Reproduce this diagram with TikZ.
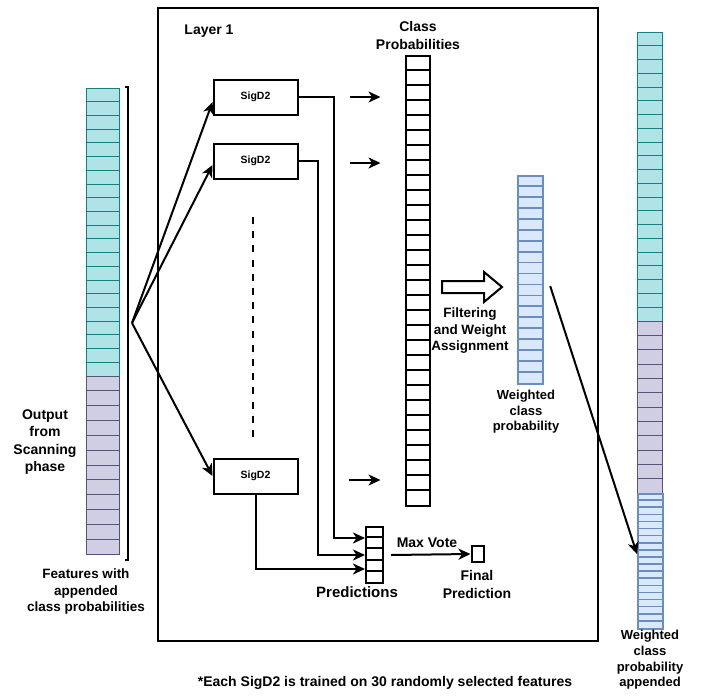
\documentclass[tikz,border=0pt]{standalone}
\usepackage{fontspec}
\setmainfont{Liberation Sans}
\usetikzlibrary{arrows.meta}
\definecolor{tealfill}{HTML}{B0E3E6}
\definecolor{tealline}{HTML}{0E8088}
\definecolor{purpfill}{HTML}{D0CEE2}
\definecolor{purpline}{HTML}{56517E}
\definecolor{bluefill}{HTML}{DAE8FC}
\definecolor{blueline}{HTML}{6C8EBF}
\tikzset{
  lbl/.style={font=\bfseries\fontsize{13.5}{16.5}\selectfont, align=center, inner sep=0pt},
  sigbox/.style={draw, line width=2pt, minimum width=84pt, minimum height=35pt, inner sep=0pt, font=\bfseries\fontsize{10.5}{12}\selectfont},
  col/.style={inner sep=0pt, anchor=north west},
  arr/.style={-{Stealth[length=12pt,width=11pt,inset=3.5pt]}, line width=2pt},
}
\begin{document}
\begin{tikzpicture}[x=1pt, y=-1pt]
\useasboundingbox (0,0) rectangle (704,696);
% left column
\node[col, draw=tealline, fill=tealfill, line width=0.9pt, minimum width=33pt, minimum height=288pt] (scanA) at (86,88) {};
\node[col, draw=purpline, fill=purpfill, line width=0.9pt, minimum width=33pt, minimum height=178pt] (scanB) at (86,376) {};
\foreach \i in {1,...,20}
  \draw[tealline, line width=0.9pt] (scanA.north west) ++(0,13.714*\i) -- ++(33,0);
\foreach \i in {1,...,11}
  \draw[purpline, line width=0.9pt] (scanB.north west) ++(0,14.833*\i) -- ++(33,0);
\draw[line width=1.3pt] (125,87) -- (128,87) -- (128,560) -- (125,560);
\node[lbl, font=\bfseries\fontsize{14}{17.3}\selectfont] (outtxt) at (45,442) {Output\\from\\Scanning\\phase};
\node[lbl] (feattxt) at (86,592) {Features with\\appended\\class probabilities};
% layer box
\node[col, draw, line width=2.4pt, minimum width=440pt, minimum height=633pt] (layer) at (157,7) {};
\node[lbl, font=\bfseries\fontsize{14}{17}\selectfont] (layertxt) at (209,31) {Layer 1};
\node[sigbox] (sig1) at (255.5,97) {SigD2};
\node[sigbox] (sig2) at (255.5,161) {SigD2};
\node[sigbox] (sig3) at (255.5,476) {SigD2};
\coordinate (fan) at (132,323);
\draw[arr] (fan) -- ([yshift=-5pt]sig1.west);
\draw[arr] (fan) -- ([yshift=-4pt]sig2.west);
\draw[arr] (fan) -- (sig3.west);
\coordinate (dtop) at (253,217);
\coordinate (dbot) at (253,442);
\draw[line width=2.2pt, dash pattern=on 7pt off 7.2pt] (dtop) -- (dbot);
% class probabilities
\node[lbl, font=\bfseries\fontsize{14}{18}\selectfont] (cptxt) at (418,35) {Class\\Probabilities};
\node[col, draw, line width=2pt, minimum width=24pt, minimum height=450pt] (cprob) at (405,55) {};
\foreach \i in {1,...,29}
  \draw[line width=2pt] (cprob.north west) ++(0,15*\i) -- ++(24,0);
\draw[arr] (sig1.east) ++(51,0) -- ++(31,0);
\draw[arr] (sig2.east) ++(51,2) -- ++(31,0);
\draw[arr] (sig3.east) ++(50,4) -- ++(32,0);
% predictions
\node[col, draw, line width=2pt, minimum width=17pt, minimum height=56pt] (pred) at (365,526) {};
\foreach \i in {1,...,4}
  \draw[line width=2pt] (pred.north west) ++(0,11.2*\i) -- ++(17,0);
\draw[arr] (sig1.east) -- ++(35,0) |- ([yshift=17pt]pred.west);
\draw[arr] (sig2.east) -- ++(19,0) |- (pred.west);
\draw[arr] (sig3.south) |- ([yshift=-14pt]pred.west);
\node[lbl, font=\bfseries\fontsize{15}{18}\selectfont] (predtxt) at (357,592) {Predictions};
\node[draw, line width=2pt, minimum width=12pt, minimum height=16pt, inner sep=0pt] (fin) at (477.5,554) {};
\draw[arr] ([xshift=7pt]pred.east) -- (fin.west);
\node[lbl, font=\bfseries\fontsize{14}{17}\selectfont] (mvtxt) at (427,543) {Max Vote};
\node[lbl, font=\bfseries\fontsize{14}{18}\selectfont] (fintxt) at (477,584) {Final\\Prediction};
% filtering
\draw[line width=2pt, fill=white] (442,281) -- (484,281) -- (484,272) -- (502,287)
  -- (484,302) -- (484,293) -- (442,293) -- cycle;
\node[lbl] (filttxt) at (470,331) {Filtering\\and Weight\\Assignment};
\node[col, draw=blueline, fill=bluefill, line width=2.2pt, minimum width=25pt, minimum height=208pt] (wcp) at (517,175) {};
\foreach \i in {1,...,18}
  \draw[blueline, line width=1.8pt] (wcp.north west) ++(0,10.947*\i) -- ++(25,0);
\node[lbl, font=\bfseries\fontsize{13}{15.5}\selectfont] (wcptxt) at (526,412) {Weighted\\class\\probability};
% right column
\node[col, draw=tealline, fill=tealfill, line width=0.9pt, minimum width=25pt, minimum height=289pt] (rtA) at (637,32) {};
\node[col, draw=purpline, fill=purpfill, line width=0.9pt, minimum width=25pt, minimum height=172pt] (rtB) at (637,321) {};
\node[col, draw=blueline, fill=bluefill, line width=2.2pt, minimum width=25pt, minimum height=135pt] (rtC) at (637,493) {};
\foreach \i in {1,...,20}
  \draw[tealline, line width=0.9pt] (rtA.north west) ++(0,13.76*\i) -- ++(25,0);
\foreach \i in {1,...,11}
  \draw[purpline, line width=0.9pt] (rtB.north west) ++(0,14.33*\i) -- ++(25,0);
\foreach \i in {1,...,18}
  \draw[blueline, line width=1.6pt] (rtC.north west) ++(0,7.105*\i) -- ++(25,0);
\draw[arr] ([xshift=6pt,yshift=-6pt]wcp.east) -- ([yshift=7.5pt]rtC.west);
\node[lbl, font=\bfseries\fontsize{13}{15.7}\selectfont] (rtxt) at (650,660) {Weighted\\class\\probability\\appended};
% footnote
\node[lbl, font=\bfseries\fontsize{14}{17}\selectfont] (note) at (385,683) {*Each SigD2 is trained on 30 randomly selected features};
\end{tikzpicture}
\end{document}
